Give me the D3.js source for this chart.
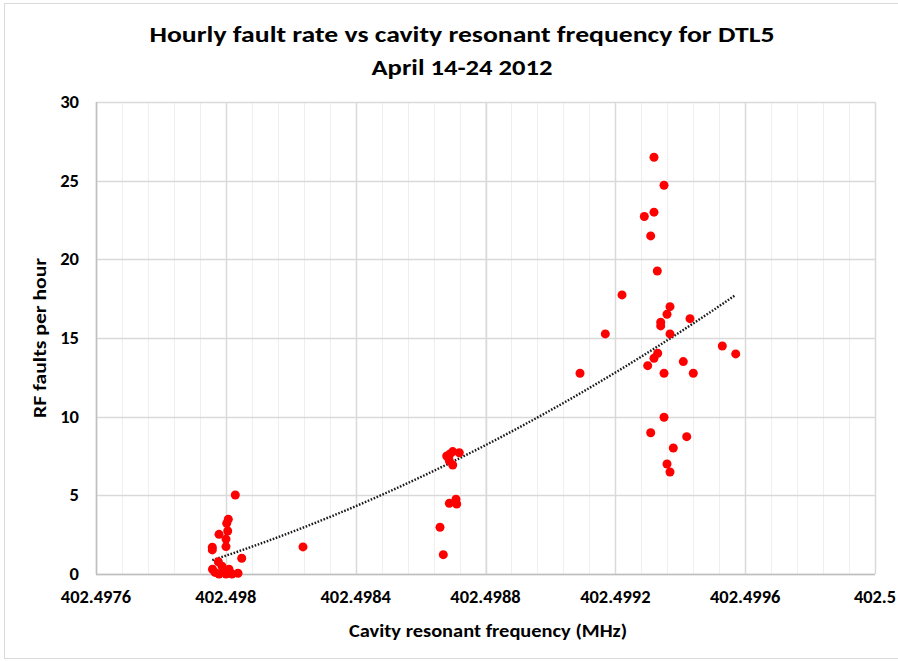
<!DOCTYPE html>
<html>
<head>
<meta charset="utf-8">
<script src="https://cdn.jsdelivr.net/npm/d3@7"></script>
<style>
  body { margin: 0; background: #fff; }
  svg { display: block; }
  text { font-family: Carlito, "Liberation Sans Narrow", "Open Sans", sans-serif; fill: #000; }
</style>
</head>
<body>
<svg id="chart" width="898" height="661"></svg>
<script>
var freq = [
  402.4980292, 402.4980076, 402.4980027, 402.4980058, 402.4979790, 402.4980005,
  402.4979583, 402.4979583, 402.4980005, 402.4980489, 402.4979768, 402.4979589,
  402.4979666, 402.4979790, 402.4979882, 402.4979944, 402.4980005, 402.4980098,
  402.4980190, 402.4980375,
  402.4982377,
  402.4986598, 402.4986700, 402.4986885, 402.4987091, 402.4987113, 402.4986805,
  402.4986906, 402.4986990, 402.4987193, 402.4986885, 402.4986990,
  402.4993191, 402.4993500, 402.4993191, 402.4992893, 402.4993090, 402.4993293,
  402.4992206, 402.4993684, 402.4993592, 402.4993398, 402.4993398, 402.4994301,
  402.4991691, 402.4993684, 402.4990912, 402.4995296, 402.4995709, 402.4993305,
  402.4993191, 402.4992997, 402.4994094, 402.4993500, 402.4994402, 402.4993500,
  402.4993090, 402.4994199, 402.4993786, 402.4993592, 402.4993684
];
var faults = [
  5.02, 3.48, 3.22, 2.73, 2.52, 2.22,
  1.70, 1.53, 1.74, 1.00, 0.78, 0.30,
  0.10, 0.00, 0.50, 0.20, 0.00, 0.30,
  0.00, 0.05,
  1.72,
  2.97, 1.23, 4.49, 4.75, 4.45, 7.50,
  7.63, 7.78, 7.71, 7.20, 6.93,
  26.49, 24.71, 23.00, 22.72, 21.49, 19.26,
  17.74, 16.99, 16.51, 16.00, 15.77, 16.23,
  15.26, 15.26, 12.76, 14.49, 13.99, 14.03,
  13.71, 13.24, 13.50, 12.76, 12.76, 9.96,
  8.98, 8.73, 8.01, 6.99, 6.48
];
var xTickLabels = ["402.4976", "402.498", "402.4984", "402.4988", "402.4992", "402.4996", "402.5"];
var yTickLabels = ["0", "5", "10", "15", "20", "25", "30"];

var svg = d3.select('#chart');
var margin = {left: 96, right: 875, top: 102, bottom: 574};

var x = d3.scaleLinear().domain([402.4976, 402.5]).range([margin.left, margin.right]);
var y = d3.scaleLinear().domain([0, 30]).range([margin.bottom, margin.top]);

// outer chart frame
svg.append('rect')
  .attr('x', 4.5).attr('y', 3.5)
  .attr('width', 900).attr('height', 655)
  .attr('fill', 'none')
  .attr('stroke', '#d9d9d9');

var xMajor = xTickLabels.map(Number);
var xMinor = d3.range(31).map(function(i) { return 402.4976 + i * 0.00008; });

svg.append('g').selectAll('line')
  .data(xMinor)
  .enter().append('line')
  .attr('x1', function(d) { return Math.round(x(d)) + 0.5; })
  .attr('x2', function(d) { return Math.round(x(d)) + 0.5; })
  .attr('y1', margin.top).attr('y2', margin.bottom)
  .attr('stroke', '#efefef').attr('stroke-width', 1);

svg.append('g').selectAll('line')
  .data(xMajor)
  .enter().append('line')
  .attr('x1', function(d) { return Math.round(x(d)) + 0.5; })
  .attr('x2', function(d) { return Math.round(x(d)) + 0.5; })
  .attr('y1', margin.top).attr('y2', margin.bottom)
  .attr('stroke', '#d9d9d9').attr('stroke-width', 1.5);

svg.append('g').selectAll('line')
  .data(yTickLabels.map(Number))
  .enter().append('line')
  .attr('x1', margin.left).attr('x2', margin.right)
  .attr('y1', function(d) { return Math.round(y(d)) + 0.5; })
  .attr('y2', function(d) { return Math.round(y(d)) + 0.5; })
  .attr('stroke', '#d9d9d9').attr('stroke-width', 1.5);

// axis lines
svg.append('line')
  .attr('x1', margin.left + 0.5).attr('x2', margin.left + 0.5)
  .attr('y1', margin.top).attr('y2', margin.bottom)
  .attr('stroke', '#bfbfbf').attr('stroke-width', 1.5);
svg.append('line')
  .attr('x1', margin.left).attr('x2', margin.right)
  .attr('y1', margin.bottom + 0.5).attr('y2', margin.bottom + 0.5)
  .attr('stroke', '#bfbfbf').attr('stroke-width', 1.5);

// label width like Calibri bold: digits ~9.4px, point ~4.5px
function labelWidth(s) {
  return s.replace('.', '').length * 9.4 + (s.indexOf('.') >= 0 ? 4.5 : 0);
}

svg.append('g').selectAll('text')
  .data(yTickLabels)
  .enter().append('text')
  .attr('x', 79)
  .attr('y', function(d) { return y(+d); })
  .attr('dy', '0.36em')
  .attr('text-anchor', 'end')
  .style('font-size', '17px')
  .style('font-weight', 'bold')
  .attr('textLength', function(d) { return labelWidth(d); })
  .attr('lengthAdjust', 'spacingAndGlyphs')
  .text(function(d) { return d; });

svg.append('g').selectAll('text')
  .data(xTickLabels)
  .enter().append('text')
  .attr('x', function(d) { return x(+d); })
  .attr('y', 603)
  .attr('text-anchor', 'middle')
  .style('font-size', '17px')
  .style('font-weight', 'bold')
  .attr('textLength', function(d) { return labelWidth(d); })
  .attr('lengthAdjust', 'spacingAndGlyphs')
  .text(function(d) { return d; });

// polynomial (order 2) trendline, least squares on the points
function quadFit(xs, ys) {
  var s = [0, 0, 0, 0, 0], t = [0, 0, 0];
  xs.forEach(function(xv, i) {
    var u = (xv - 402.4976) * 1e4;
    for (var k = 0; k < 5; k++) s[k] += Math.pow(u, k);
    for (var k2 = 0; k2 < 3; k2++) t[k2] += ys[i] * Math.pow(u, k2);
  });
  var m = [[s[0], s[1], s[2], t[0]], [s[1], s[2], s[3], t[1]], [s[2], s[3], s[4], t[2]]];
  for (var c = 0; c < 3; c++) {
    for (var r = c + 1; r < 3; r++) {
      var f = m[r][c] / m[c][c];
      for (var j = c; j < 4; j++) m[r][j] -= f * m[c][j];
    }
  }
  var a = [0, 0, 0];
  for (var r2 = 2; r2 >= 0; r2--) {
    var v = m[r2][3];
    for (var j2 = r2 + 1; j2 < 3; j2++) v -= m[r2][j2] * a[j2];
    a[r2] = v / m[r2][r2];
  }
  return function(xv) {
    var u = (xv - 402.4976) * 1e4;
    return a[0] + a[1] * u + a[2] * u * u;
  };
}

var trend = quadFit(freq, faults);
var fExt = d3.extent(freq);
var trendPts = d3.range(0, 101).map(function(i) {
  var f = fExt[0] + (fExt[1] - fExt[0]) * i / 100;
  return [f, trend(f)];
});

svg.append('path')
  .datum(trendPts)
  .attr('d', d3.line()
    .x(function(d) { return x(d[0]); })
    .y(function(d) { return y(d[1]); }))
  .attr('fill', 'none')
  .attr('stroke', '#1a1a1a')
  .attr('stroke-width', 2.4)
  .attr('stroke-dasharray', '1.6,1.6');

svg.append('g').selectAll('circle')
  .data(freq)
  .enter().append('circle')
  .attr('cx', function(d) { return x(d); })
  .attr('cy', function(d, i) { return y(faults[i]); })
  .attr('r', 4.5)
  .attr('fill', '#ff0000');

// titles, stretched to the widths in the picture
function fitText(sel, width) {
  sel.attr('textLength', width).attr('lengthAdjust', 'spacingAndGlyphs');
}

svg.append('text')
  .attr('x', 462).attr('y', 42)
  .attr('text-anchor', 'middle')
  .style('font-size', '23px').style('font-weight', 'bold')
  .text('Hourly fault rate vs cavity resonant frequency for DTL5')
  .call(fitText, 625);

svg.append('text')
  .attr('x', 462).attr('y', 75)
  .attr('text-anchor', 'middle')
  .style('font-size', '23px').style('font-weight', 'bold')
  .text('April 14-24 2012')
  .call(fitText, 181);

svg.append('text')
  .attr('x', 488).attr('y', 637)
  .attr('text-anchor', 'middle')
  .style('font-size', '19px').style('font-weight', '600')
  .text('Cavity resonant frequency (MHz)')
  .call(fitText, 278);

svg.append('text')
  .attr('transform', 'translate(46,338) rotate(-90)')
  .attr('text-anchor', 'middle')
  .style('font-size', '19px').style('font-weight', '600')
  .text('RF faults per hour')
  .call(fitText, 160);
</script>
</body>
</html>
